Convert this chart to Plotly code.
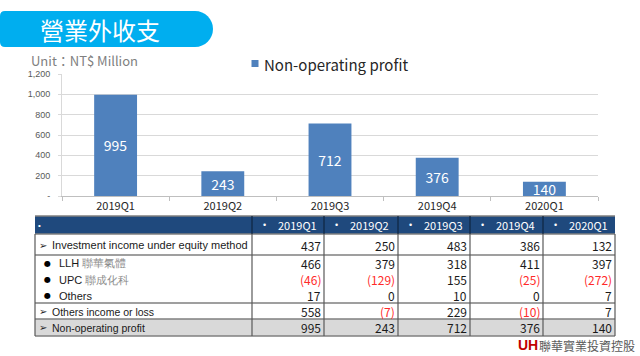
import plotly.graph_objects as go

# ---------------- data ----------------
categories = ["2019Q1", "2019Q2", "2019Q3", "2019Q4", "2020Q1"]
non_operating_profit = [995, 243, 712, 376, 140]
equity_income = [437, 250, 483, 386, 132]
llh_income = [466, 379, 318, 411, 397]
upc_income = [-46, -129, 155, -25, -272]
others_equity = [17, 0, 10, 0, 7]
other_income_loss = [558, -7, 229, -10, 7]
y_ticks = [0, 200, 400, 600, 800, 1000, 1200]
y_tick_labels = ["-", "200", "400", "600", "800", "1,000", "1,200"]

row_labels = [
    "Investment income under equity method",
    "LLH <span style='color:#8c8c8c'>聯華氣體</span>",
    "UPC <span style='color:#8c8c8c'>聯成化科</span>",
    "Others",
    "Others income or loss",
    "Non-operating profit",
]
row_values = [equity_income, llh_income, upc_income, others_equity,
              other_income_loss, non_operating_profit]

# ---------------- helpers ----------------
W, H = 640, 356
def px(x):
    return x / W
def py(y):
    return 1 - y / H

CJK = "Noto Sans CJK TC, Noto Sans, sans-serif"
ARIAL = "Liberation Sans, Arial, sans-serif"
BLUE = "#4F81BD"

fig = go.Figure()
fig.add_trace(go.Bar(
    x=categories, y=non_operating_profit, width=0.4,
    marker=dict(color=BLUE, line=dict(width=0)),
    text=[f"{v:,}" for v in non_operating_profit],
    textposition="inside", insidetextanchor="middle",
    textfont=dict(color="white", size=14, family=CJK),
    constraintext="none", cliponaxis=False, showlegend=False,
    hoverinfo="skip",
))

shapes = []
annotations = []

# ---- title banner ----
k = 0.5523
r = 18
x0, x1, yt, yb = 0, 213, 11, 47
xc = x1 - r
ym = (yt + yb) / 2
rl = 5
path = (
    f"M {px(x0)},{py(yt + rl)} "
    f"Q {px(x0)},{py(yt)} {px(x0 + rl)},{py(yt)} "
    f"L {px(xc)},{py(yt)} "
    f"C {px(xc + r * k)},{py(yt)} {px(x1)},{py(ym - r * k)} {px(x1)},{py(ym)} "
    f"C {px(x1)},{py(ym + r * k)} {px(xc + r * k)},{py(yb)} {px(xc)},{py(yb)} "
    f"L {px(x0 + rl)},{py(yb)} "
    f"Q {px(x0)},{py(yb)} {px(x0)},{py(yb - rl)} Z"
)
shapes.append(dict(type="path", xref="paper", yref="paper", path=path,
                   fillcolor="#00AEEF", line=dict(width=0), layer="below"))
annotations.append(dict(x=px(100), y=py(30), xref="paper", yref="paper",
                        text="營業外收支", showarrow=False,
                        font=dict(size=24, color="white", family=CJK),
                        xanchor="center", yanchor="middle"))

# ---- unit & legend ----
annotations.append(dict(x=px(29), y=py(60.5), xref="paper", yref="paper",
                        text="Unit：NT$ Million", showarrow=False,
                        font=dict(size=13, color="#808080", family=CJK),
                        xanchor="left", yanchor="middle"))
shapes.append(dict(type="rect", xref="paper", yref="paper",
                   x0=px(251.5), x1=px(258.5), y0=py(67), y1=py(60),
                   fillcolor=BLUE, line=dict(width=0)))
annotations.append(dict(x=px(262), y=py(64), xref="paper", yref="paper",
                        text="Non-operating profit", showarrow=False,
                        font=dict(size=15, color="#262626", family=CJK),
                        xanchor="left", yanchor="middle"))

# ---- table ----
col_edges = [35, 252, 324, 398, 470, 543, 615]
row_edges = [216, 234, 255, 303, 319, 336]
T_LEFT, T_RIGHT = col_edges[0], col_edges[-1]

shapes.append(dict(type="rect", xref="paper", yref="paper",
                   x0=px(T_LEFT), x1=px(T_RIGHT), y0=py(234), y1=py(216),
                   fillcolor="#1F497D", line=dict(width=0), layer="below"))
shapes.append(dict(type="rect", xref="paper", yref="paper",
                   x0=px(T_LEFT), x1=px(T_RIGHT), y0=py(336), y1=py(319),
                   fillcolor="#D9D9D9", line=dict(width=0), layer="below"))
for yy in row_edges:
    shapes.append(dict(type="line", xref="paper", yref="paper",
                       x0=px(T_LEFT), x1=px(T_RIGHT), y0=py(yy), y1=py(yy),
                       line=dict(color="#7f7f7f", width=1.5)))
for i, xx in enumerate(col_edges):
    shapes.append(dict(type="line", xref="paper", yref="paper",
                       x0=px(xx), x1=px(xx), y0=py(234), y1=py(336),
                       line=dict(color="#595959", width=1.2)))
    if 0 < i < len(col_edges) - 1:
        shapes.append(dict(type="line", xref="paper", yref="paper",
                           x0=px(xx), x1=px(xx), y0=py(216), y1=py(234),
                           line=dict(color="#0f2540", width=1.2)))

# header
annotations.append(dict(x=px(36), y=py(225), xref="paper", yref="paper",
                        text="•", showarrow=False,
                        font=dict(size=8, color="white", family=ARIAL),
                        xanchor="left", yanchor="middle"))
for i, cat in enumerate(categories):
    cl = col_edges[i + 1]
    annotations.append(dict(x=px(cl + 12), y=py(225), xref="paper", yref="paper",
                            text="•", showarrow=False,
                            font=dict(size=9, color="white", family=ARIAL),
                            xanchor="center", yanchor="middle"))
    annotations.append(dict(x=px(cl + 45), y=py(225), xref="paper", yref="paper",
                            text=cat, showarrow=False,
                            font=dict(size=11, color="white", family=CJK),
                            xanchor="center", yanchor="middle"))

row_y = [245, 263, 279.5, 295.5, 311.5, 327.5]
row_kind = ["arrow", "bullet", "bullet", "bullet", "arrow", "arrow"]
row_size = [11, 11, 11, 11, 10.5, 10.5]
for label, vals, yy, kind, fs in zip(row_labels, row_values, row_y, row_kind, row_size):
    if kind == "arrow":
        annotations.append(dict(x=px(37), y=py(yy), xref="paper", yref="paper",
                                text="➢", showarrow=False,
                                font=dict(size=10, color="#262626", family="DejaVu Sans"),
                                xanchor="left", yanchor="middle"))
        lx = 50
    else:
        annotations.append(dict(x=px(47), y=py(yy), xref="paper", yref="paper",
                                text="●", showarrow=False,
                                font=dict(size=8, color="black", family="DejaVu Sans"),
                                xanchor="center", yanchor="middle"))
        lx = 57
    annotations.append(dict(x=px(lx), y=py(yy), xref="paper", yref="paper",
                            text=label, showarrow=False,
                            font=dict(size=fs, color="#1a1a1a", family=ARIAL),
                            xanchor="left", yanchor="middle"))
    for i, v in enumerate(vals):
        txt = f"({abs(v):,})" if v < 0 else f"{v:,}"
        col = "#ff2a2a" if v < 0 else "#1a1a1a"
        annotations.append(dict(x=px(col_edges[i + 2] - 1), y=py(yy),
                                xref="paper", yref="paper",
                                text=txt, showarrow=False,
                                font=dict(size=12, color=col, family=CJK),
                                xanchor="right", yanchor="middle"))

# ---- logo ----
annotations.append(dict(x=px(516), y=py(345), xref="paper", yref="paper",
                        text="<b>UH</b>", showarrow=False,
                        font=dict(size=14, color="#c00000", family=ARIAL),
                        xanchor="left", yanchor="middle"))
annotations.append(dict(x=px(537), y=py(345), xref="paper", yref="paper",
                        text="聯華實業投資控股", showarrow=False,
                        font=dict(size=12, color="#595959", family=CJK),
                        xanchor="left", yanchor="middle"))

fig.update_layout(
    width=W, height=H,
    margin=dict(l=0, r=0, t=0, b=0, autoexpand=False),
    paper_bgcolor="white", plot_bgcolor="white",
    bargap=0.6,
    shapes=shapes, annotations=annotations,
    xaxis=dict(domain=[px(62), px(598)], type="category",
               showline=True, linecolor="#bfbfbf", linewidth=1,
               ticks="outside", tickson="boundaries", ticklen=4,
               tickcolor="#bfbfbf",
               tickfont=dict(size=11, color="#262626", family=CJK),
               showgrid=False, automargin=False, fixedrange=True),
    yaxis=dict(domain=[py(196), py(74)], range=[0, 1200],
               tickvals=y_ticks, ticktext=y_tick_labels,
               showgrid=True, gridcolor="#d9d9d9", gridwidth=1,
               showline=True, linecolor="#d9d9d9",
               ticks="outside", ticklen=3, tickcolor="#d9d9d9",
               ticklabelstandoff=6,
               tickfont=dict(size=9, color="#595959", family=ARIAL),
               zeroline=False, automargin=False, fixedrange=True),
)

fig.write_html("out.html", config={"displayModeBar": False},
               post_script="document.body.style.margin='0';document.body.style.overflow='hidden';")
